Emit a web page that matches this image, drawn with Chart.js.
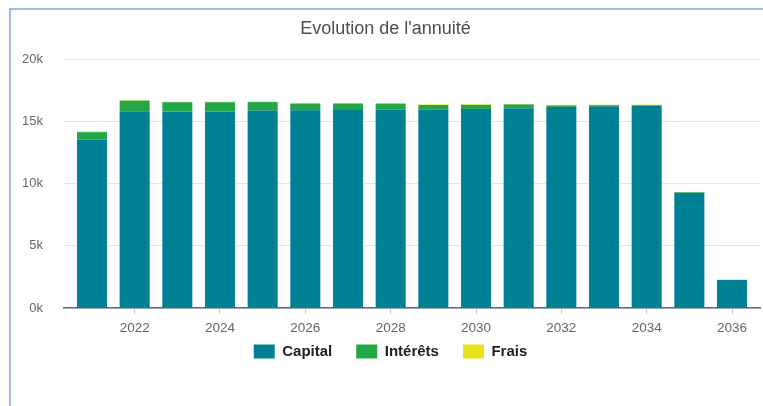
<!DOCTYPE html>
<html>
<head>
<meta charset="utf-8">
<script src="https://cdn.jsdelivr.net/npm/chart.js"></script>
<style>
  html, body { margin: 0; padding: 0; background: #fff; overflow: hidden; }
  #frame {
    position: absolute; left: 9px; top: 8px;
    width: 764px; height: 400px;
    border-top: 2px solid #9dbde9;
    border-left: 2px solid #9dbde9;
  }
  #wrap { position: absolute; left: 0; top: 0; width: 762px; height: 396px; }
</style>
</head>
<body>
<div id="frame"><div id="wrap"><canvas id="chart"></canvas></div></div>
<script>
// years of the loan
const years = [2021, 2022, 2023, 2024, 2025, 2026, 2027, 2028, 2029, 2030, 2031, 2032, 2033, 2034, 2035, 2036];
const capital = [13520, 15750, 15770, 15790, 15860, 15880, 15900, 15930, 15970, 15990, 16050, 16150, 16200, 16240, 9250, 2250];
const interets = [600, 900, 760, 740, 680, 540, 520, 480, 340, 330, 300, 120, 90, 50, 40, 10];
const frais = [50, 40, 40, 40, 40, 40, 40, 40, 40, 40, 40, 40, 40, 40, 30, 10];
const xTicks = [2022, 2024, 2026, 2028, 2030, 2032, 2034, 2036];
const yTicks = [0, 5000, 10000, 15000, 20000];

function points(values) {
    return years.map((y, i) => ({ x: y, y: values[i] }));
}

// move the legend a bit (right and up), like the original
const legendShift = {
    id: 'legendShift',
    afterLayout(chart) {
        chart.legend.left += 5;
        chart.legend.right += 5;
        chart.legend.top -= 16;
        chart.legend.bottom -= 16;
    }
};

const ctx = document.getElementById('chart').getContext('2d');
new Chart(ctx, {
    type: 'bar',
    data: {
        datasets: [
            { label: 'Capital', data: points(capital), backgroundColor: '#008193' },
            { label: 'Intérêts', data: points(interets), backgroundColor: '#22a646' },
            { label: 'Frais', data: points(frais), backgroundColor: '#e9e21a' },
        ],
    },
    plugins: [legendShift],
    options: {
        responsive: true,
        maintainAspectRatio: false,
        animation: false,
        barPercentage: 0.88,
        categoryPercentage: 0.8,
        layout: { padding: { left: 0, right: 13, top: 0, bottom: 21 } },
        plugins: {
            title: {
                display: true,
                text: "Evolution de l'annuité",
                color: '#4d4d4d',
                font: { family: 'Liberation Sans', size: 18, weight: 'normal', lineHeight: 1.2 },
                padding: { top: 8, bottom: 19.4 },
            },
            legend: {
                position: 'bottom',
                labels: {
                    boxWidth: 21,
                    boxHeight: 14,
                    padding: 24,
                    color: '#222',
                    font: { family: 'Liberation Sans', size: 15, weight: 'bold' },
                },
            },
            tooltip: { enabled: false },
        },
        scales: {
            x: {
                type: 'linear',
                stacked: true,
                offset: false,
                min: 2020.344,
                max: 2036.656,
                afterBuildTicks: (scale) => { scale.ticks = xTicks.map(v => ({ value: v })); },
                afterFit: (scale) => { scale.height = 28; },
                grid: { offset: false, drawOnChartArea: false, drawTicks: true, tickLength: 6, color: '#b3cbe3' },
                border: { display: true, color: '#55687a', width: 1.5 },
                ticks: {
                    color: '#666',
                    padding: 6,
                    font: { family: 'Liberation Sans', size: 13.5 },
                    callback: (v) => String(v),
                },
            },
            y: {
                stacked: true,
                min: 0,
                max: 20000,
                afterBuildTicks: (scale) => { scale.ticks = yTicks.map(v => ({ value: v })); },
                afterFit: (scale) => { scale.width = 53; },
                grid: { color: '#e0e9f1', drawTicks: false },
                border: { display: false },
                ticks: {
                    color: '#666',
                    padding: 21,
                    font: { family: 'Liberation Sans', size: 13 },
                    callback: (v) => (v / 1000) + 'k',
                },
            },
        },
    },
});
</script>
</body>
</html>
